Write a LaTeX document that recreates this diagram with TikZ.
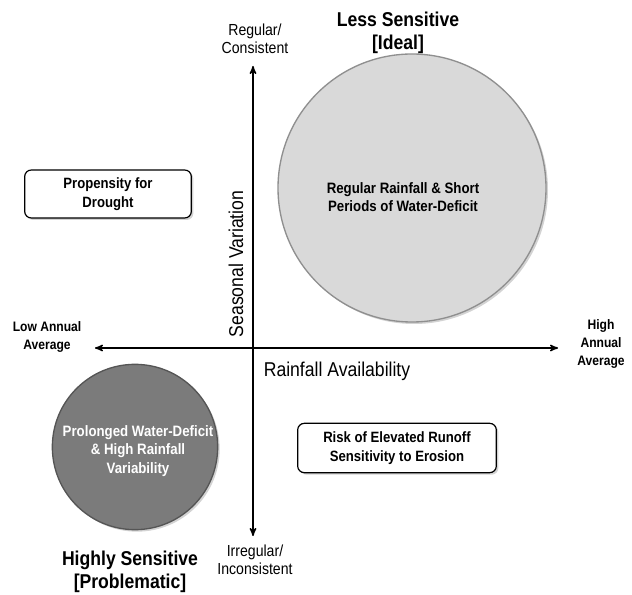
\documentclass[tikz,border=0pt]{standalone}
\usepackage{fontspec}
\setmainfont{Liberation Sans}[FakeStretch=0.88]
\usetikzlibrary{arrows,shadows}
\definecolor{lightdisc}{HTML}{D9D9D9}
\definecolor{lightedge}{HTML}{8F8F8F}
\definecolor{darkdisc}{HTML}{7B7B7B}
\definecolor{darkedge}{HTML}{555555}
\tikzset{
    >=stealth', % Default arrow tip
    axislabel/.style={align=center, font=\fontsize{12}{13.5}\selectfont},
    endlabel/.style={align=center, font=\bfseries\fontsize{10.3}{13.5}\selectfont},
    quadlabel/.style={align=center, font=\bfseries\fontsize{15}{17.5}\selectfont},
    axistitle/.style={font=\fontsize{15}{17}\selectfont},
    softshadow/.style={drop shadow={opacity=0.35, shadow xshift=1.5pt, shadow yshift=-1.5pt}},
    infobox/.style={draw, line width=0.9pt, rounded corners=5pt, fill=white, softshadow,
        align=center, font=\bfseries\fontsize{11.2}{14.3}\selectfont, inner sep=0pt},
    disc/.style={circle, inner sep=0pt, line width=1pt, softshadow},
    disctext/.style={align=center, font=\bfseries\fontsize{11.3}{14}\selectfont}
}

\begin{document}
\begin{tikzpicture}[x=0.75pt, y=-0.75pt]
    \useasboundingbox (0,0) rectangle (632,595);
    % axis ends
    \coordinate (n) at (253,66);
    \coordinate (s) at (253,536);
    \coordinate (w) at (95,348);
    \coordinate (e) at (558,348);
    % discs and boxes
    \draw
        node (ideal) [disc, fill=lightdisc, draw=lightedge, minimum size=201pt] at (412,188) {}
        node (problem) [disc, fill=darkdisc, draw=darkedge, minimum size=124pt] at (135,447) {}
        node (drought) [infobox, minimum width=125pt, minimum height=36pt]
            at (108,194) {Propensity for\\Drought}
        node (runoff) [infobox, minimum width=149pt, minimum height=37pt]
            at (397,448) {Risk of Elevated Runoff\\Sensitivity to Erosion}
    ;
    \draw
        node (idealtext) [disctext] at (403,197) {Regular Rainfall \& Short\\Periods of Water-Deficit}
        node (problemtext) [disctext, text=white] at (138,451) {Prolonged Water-Deficit\\\& High Rainfall\\Variability}
    ;
    % axes
    \draw
        [<->, line width=1.1pt]
        (w) -- (e)
    ;
    \draw
        [<->, line width=1.1pt]
        (s) -- (n)
    ;
    % labels
    \draw
        node (reg) [axislabel] at (255,39) {Regular/\\Consistent}
        node (irreg) [axislabel] at (255,560) {Irregular/\\Inconsistent}
        node (low) [endlabel] at (47,337) {Low Annual\\Average}
        node (high) [endlabel] at (601,344) {High\\Annual\\Average}
        node (less) [quadlabel] at (398,33) {Less Sensitive\\{[Ideal]}}
        node (highly) [quadlabel] at (130,572) {Highly Sensitive\\{[Problematic]}}
        node (season) [axistitle, rotate=90] at (236,264) {Seasonal Variation}
        node (rain) [axistitle] at (337,371) {Rainfall Availability}
    ;
\end{tikzpicture}
\end{document}
